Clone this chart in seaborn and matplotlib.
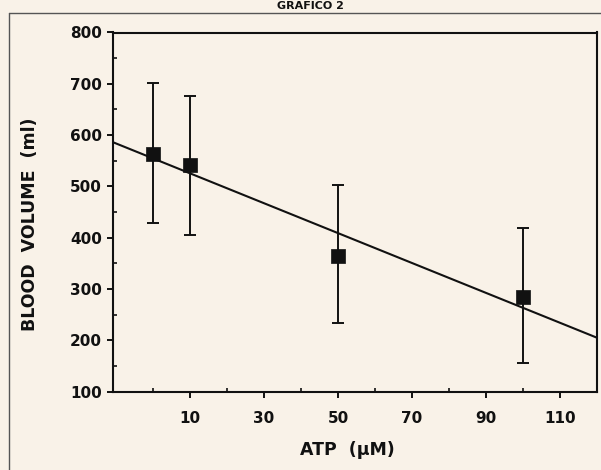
import numpy as np
import pandas as pd
import seaborn as sns
import matplotlib.pyplot as plt
from matplotlib.lines import Line2D
from matplotlib.ticker import FixedLocator

# ---- data ----
atp = [0, 10, 50, 100]                 # ATP (µM)
volume = [563, 541, 364, 284]          # mean blood volume (ml)
err_low = [428, 405, 234, 155]         # lower end of error bar
err_high = [702, 677, 502, 418]        # upper end of error bar

y_ticks = [100, 200, 300, 400, 500, 600, 700, 800]
y_minor = [150, 250, 350, 450, 550, 650, 750]
x_ticks = [10, 30, 50, 70, 90, 110]
x_minor = [0, 20, 40, 60, 80, 100]

title = "GRAFICO 2"
xlabel = "ATP  (µM)"
ylabel = "BLOOD  VOLUME  (ml)"

sns.set_theme(style="ticks")
plt.rcParams["font.family"] = ["DejaVu Sans"]
plt.rcParams["font.weight"] = "bold"

bg = "#f9f2e8"
ink = "#111111"

fig = plt.figure(figsize=(6.01, 4.70), dpi=100, facecolor=bg)
ax = fig.add_axes([113 / 601, 1 - 391.5 / 470, (597 - 113) / 601, (391.5 - 32.5) / 470],
                  facecolor=bg)
ax.set_xlim(-10.8, 120)
ax.set_ylim(100, 800)

df = pd.DataFrame({"atp": atp, "volume": volume, "low": err_low, "high": err_high})

sns.regplot(data=df, x="atp", y="volume", scatter=False, ci=None, truncate=False,
            color=ink, line_kws=dict(lw=1.5), ax=ax)
ax.errorbar(df["atp"], df["volume"],
            yerr=[df["volume"] - df["low"], df["high"] - df["volume"]],
            fmt="none", ecolor=ink, elinewidth=1.4, capsize=4, capthick=1.4, zorder=3)
sns.scatterplot(data=df, x="atp", y="volume", marker="s", s=110, color=ink,
                edgecolor=ink, linewidth=0.5, ax=ax, zorder=5)

ax.set_xlim(-10.8, 120)
ax.set_ylim(100, 800)
ax.set_xlabel("")
ax.set_ylabel("")

for sp in ax.spines.values():
    sp.set_visible(True)
    sp.set_linewidth(1.5)
    sp.set_color(ink)

ax.yaxis.set_major_locator(FixedLocator(y_ticks))
ax.yaxis.set_minor_locator(FixedLocator(y_minor))
ax.xaxis.set_major_locator(FixedLocator(x_ticks))
ax.xaxis.set_minor_locator(FixedLocator(x_minor))
ax.set_yticklabels([str(v) for v in y_ticks])
ax.set_xticklabels([str(v) for v in x_ticks])

ax.tick_params(axis="y", which="major", direction="out", length=4, width=1.4,
               color=ink, labelsize=11, pad=4, labelcolor=ink)
ax.tick_params(axis="y", which="minor", direction="in", length=3, width=1.2, color=ink)
ax.tick_params(axis="x", which="major", direction="out", length=4, width=1.4,
               color=ink, labelsize=11, pad=10, labelcolor=ink)
ax.tick_params(axis="x", which="minor", direction="in", length=3, width=1.2, color=ink)
for lab in ax.get_xticklabels() + ax.get_yticklabels():
    lab.set_fontweight("bold")

fig.text(30 / 601, 1 - 224 / 470, ylabel, rotation=90, ha="center", va="center",
         fontsize=12.5, fontweight="bold", color=ink)
fig.text(347 / 601, 1 - 450 / 470, xlabel, ha="center", va="center",
         fontsize=12.5, fontweight="bold", color=ink)
fig.text(310 / 601, 1 - 1 / 470, title, ha="center", va="top",
         fontsize=8, fontweight="bold", color=ink)

# outer frame of the printed figure
fig.add_artist(Line2D([9 / 601, 1.0], [1 - 12.7 / 470, 1 - 12.7 / 470],
                      transform=fig.transFigure, color="#555555", lw=1.0))
fig.add_artist(Line2D([9 / 601, 9 / 601], [0.0, 1 - 12.7 / 470],
                      transform=fig.transFigure, color="#555555", lw=1.0))

fig.savefig("out.png", dpi=100, facecolor=bg)
